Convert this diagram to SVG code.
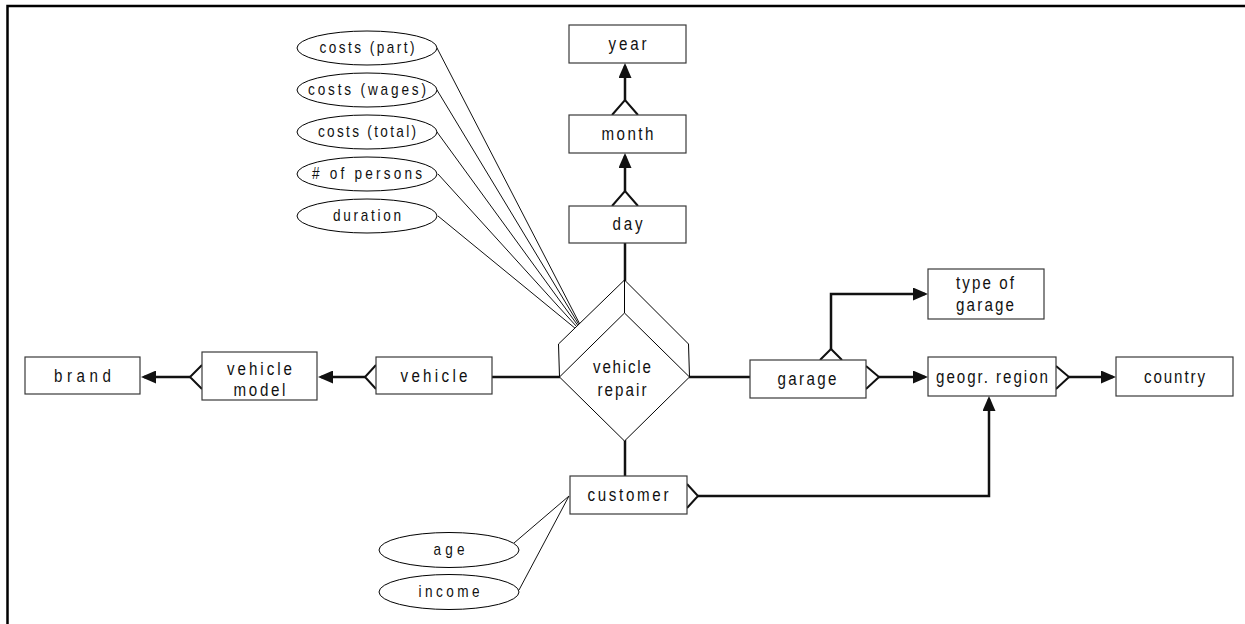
<svg xmlns="http://www.w3.org/2000/svg" width="1245" height="624" viewBox="0 0 1245 624">
<style>
  .box { fill: #fff; stroke: #3a3a3a; stroke-width: 1.2; }
  .ell { fill: #fff; stroke: #000; stroke-width: 1; }
  .dia { fill: #fff; stroke: #000; stroke-width: 1; stroke-linejoin: miter; }
  .t { font-family: "Liberation Sans", Arial, sans-serif; font-size: 18.5px; fill: #111; text-anchor: middle; }
  .ta { font-family: "Liberation Sans", Arial, sans-serif; font-size: 16px; fill: #111; text-anchor: middle; }
  .rel { fill: none; stroke: #111; stroke-width: 2.5; }
  .crow { fill: none; stroke: #111; stroke-width: 2; stroke-linejoin: miter; }
  .att { fill: none; stroke: #111; stroke-width: 1; }
  .frame { fill: none; stroke: #000; stroke-width: 2.5; }
</style>
<defs>
  <marker id="arr" viewBox="0 0 15 13" refX="12" refY="6.5" markerWidth="15" markerHeight="13" markerUnits="userSpaceOnUse" orient="auto">
    <path d="M0,0 L15,6.5 L0,13 Z" fill="#111"/>
  </marker>
</defs>
<rect width="1245" height="624" fill="#fff"/>
<path class="frame" d="M7.5,624 V6 H1245"/>

<g id="connectors">
  <path class="att" d="M437,48 L587,338 M437,90 L587,338 M437,132 L587,338 M438,174 L587,338 M438,216 L587,338"/>
  <path class="att" d="M569,496 L514,543 M569,496 L519,590"/>
  <path class="rel" d="M625,243 V281"/>
  <path class="rel" d="M625,100 V66" marker-end="url(#arr)"/>
  <path class="crow" d="M612,115 L625,100 L638,115"/>
  <path class="rel" d="M625,191 V156" marker-end="url(#arr)"/>
  <path class="crow" d="M612,206 L625,191 L638,206"/>
  <path class="rel" d="M190,377 H144" marker-end="url(#arr)"/>
  <path class="crow" d="M202,365 L190,377 L202,389"/>
  <path class="rel" d="M365,377 H321" marker-end="url(#arr)"/>
  <path class="crow" d="M376,365 L365,377 L376,389"/>
  <path class="rel" d="M492,377 H560"/>
  <path class="rel" d="M689,377 H750"/>
  <path class="rel" d="M879,377 H925" marker-end="url(#arr)"/>
  <path class="crow" d="M866,366 L879,377 L866,389"/>
  <path class="rel" d="M1069,377 H1113" marker-end="url(#arr)"/>
  <path class="crow" d="M1056,366 L1069,377 L1056,389"/>
  <path class="rel" d="M831,349 V294 H925" marker-end="url(#arr)"/>
  <path class="crow" d="M820,360 L831,349 L842,360"/>
  <path class="rel" d="M625,440 V476"/>
  <path class="rel" d="M698,496 H989 V399" marker-end="url(#arr)"/>
  <path class="crow" d="M687,484 L698,496 L687,508"/>
</g>

<g id="attr-costs-part">
  <ellipse class="ell" cx="367" cy="48" rx="70" ry="17"/>
  <text class="ta" transform="matrix(0.85 0 0 1 55.05 0)" x="367" y="53.5" textLength="111.8" lengthAdjust="spacing">costs (part)</text>
</g>
<g id="attr-costs-wages">
  <ellipse class="ell" cx="367" cy="90" rx="70" ry="17"/>
  <text class="ta" transform="matrix(0.85 0 0 1 55.05 0)" x="367" y="95.5" textLength="138.8" lengthAdjust="spacing">costs (wages)</text>
</g>
<g id="attr-costs-total">
  <ellipse class="ell" cx="367" cy="132" rx="70" ry="17"/>
  <text class="ta" transform="matrix(0.85 0 0 1 55.05 0)" x="367" y="137.5" textLength="115.3" lengthAdjust="spacing">costs (total)</text>
</g>
<g id="attr-persons">
  <ellipse class="ell" cx="367" cy="174" rx="70" ry="17"/>
  <text class="ta" transform="matrix(0.85 0 0 1 55.05 0)" x="367" y="179.5" textLength="129.4" lengthAdjust="spacing"># of persons</text>
</g>
<g id="attr-duration">
  <ellipse class="ell" cx="367" cy="216" rx="70" ry="17"/>
  <text class="ta" transform="matrix(0.85 0 0 1 55.05 0)" x="367" y="221.5" textLength="80" lengthAdjust="spacing">duration</text>
</g>
<g id="attr-age">
  <ellipse class="ell" cx="449" cy="550" rx="70" ry="17.5"/>
  <text class="ta" transform="matrix(0.85 0 0 1 67.35 0)" x="449" y="555.5" textLength="36.5" lengthAdjust="spacing">age</text>
</g>
<g id="attr-income">
  <ellipse class="ell" cx="449" cy="592" rx="70" ry="17.5"/>
  <text class="ta" transform="matrix(0.85 0 0 1 67.35 0)" x="449" y="597.5" textLength="71.8" lengthAdjust="spacing">income</text>
</g>

<g id="node-year">
  <rect class="box" x="569" y="25" width="117" height="38"/>
  <text class="t" transform="matrix(0.82 0 0 1 112.95 0)" x="627.5" y="50" textLength="46.3" lengthAdjust="spacing">year</text>
</g>
<g id="node-month">
  <rect class="box" x="569" y="115" width="117" height="38"/>
  <text class="t" transform="matrix(0.82 0 0 1 112.95 0)" x="627.5" y="140.5" textLength="63.4" lengthAdjust="spacing">month</text>
</g>
<g id="node-day">
  <rect class="box" x="569" y="206" width="117" height="37"/>
  <text class="t" transform="matrix(0.82 0 0 1 112.95 0)" x="627.5" y="230" textLength="36.6" lengthAdjust="spacing">day</text>
</g>

<g id="node-vehicle-repair">
  <path class="dia" d="M559.5,377 L558.5,344 L624.5,280 L688.5,344 L689.5,377"/>
  <polygon class="dia" points="624.5,313 689.5,377 624.5,441 559.5,377"/>
  <path class="dia" d="M624.5,280 V313"/>
  <text class="t" transform="matrix(0.82 0 0 1 111.96 0)" x="622" y="373.5" textLength="70.7" lengthAdjust="spacing">vehicle</text>
  <text class="t" transform="matrix(0.82 0 0 1 111.96 0)" x="622" y="396.5" textLength="59.8" lengthAdjust="spacing">repair</text>
</g>

<g id="node-brand">
  <rect class="box" x="25" y="357" width="115" height="37"/>
  <text class="t" transform="matrix(0.82 0 0 1 14.85 0)" x="82.5" y="382.5" textLength="69.5" lengthAdjust="spacing">brand</text>
</g>
<g id="node-vehicle-model">
  <rect class="box" x="202" y="352" width="115" height="48"/>
  <text class="t" transform="matrix(0.82 0 0 1 46.71 0)" x="259.5" y="375" textLength="79.3" lengthAdjust="spacing">vehicle</text>
  <text class="t" transform="matrix(0.82 0 0 1 46.71 0)" x="259.5" y="396.5" textLength="63.4" lengthAdjust="spacing">model</text>
</g>
<g id="node-vehicle">
  <rect class="box" x="376" y="357" width="116" height="37"/>
  <text class="t" transform="matrix(0.82 0 0 1 78.12 0)" x="434" y="382.5" textLength="81.7" lengthAdjust="spacing">vehicle</text>
</g>

<g id="node-garage">
  <rect class="box" x="750" y="360" width="116" height="38"/>
  <text class="t" transform="matrix(0.82 0 0 1 145.26 0)" x="807" y="385.5" textLength="72" lengthAdjust="spacing">garage</text>
</g>
<g id="node-type-of-garage">
  <rect class="box" x="928" y="269" width="116" height="50"/>
  <text class="t" transform="matrix(0.82 0 0 1 177.3 0)" x="985" y="289.5" textLength="70.7" lengthAdjust="spacing">type of</text>
  <text class="t" transform="matrix(0.82 0 0 1 177.3 0)" x="985" y="311" textLength="70.7" lengthAdjust="spacing">garage</text>
</g>
<g id="node-geogr-region">
  <rect class="box" x="928" y="357" width="128" height="39"/>
  <text class="t" transform="matrix(0.82 0 0 1 178.56 0)" x="992" y="383" textLength="136.6" lengthAdjust="spacing">geogr. region</text>
</g>
<g id="node-country">
  <rect class="box" x="1116" y="357" width="117" height="39"/>
  <text class="t" transform="matrix(0.82 0 0 1 211.41 0)" x="1174.5" y="383" textLength="74.4" lengthAdjust="spacing">country</text>
</g>
<g id="node-customer">
  <rect class="box" x="570" y="476" width="117" height="38"/>
  <text class="t" transform="matrix(0.82 0 0 1 113.04 0)" x="628" y="501.5" textLength="98.8" lengthAdjust="spacing">customer</text>
</g>
</svg>
